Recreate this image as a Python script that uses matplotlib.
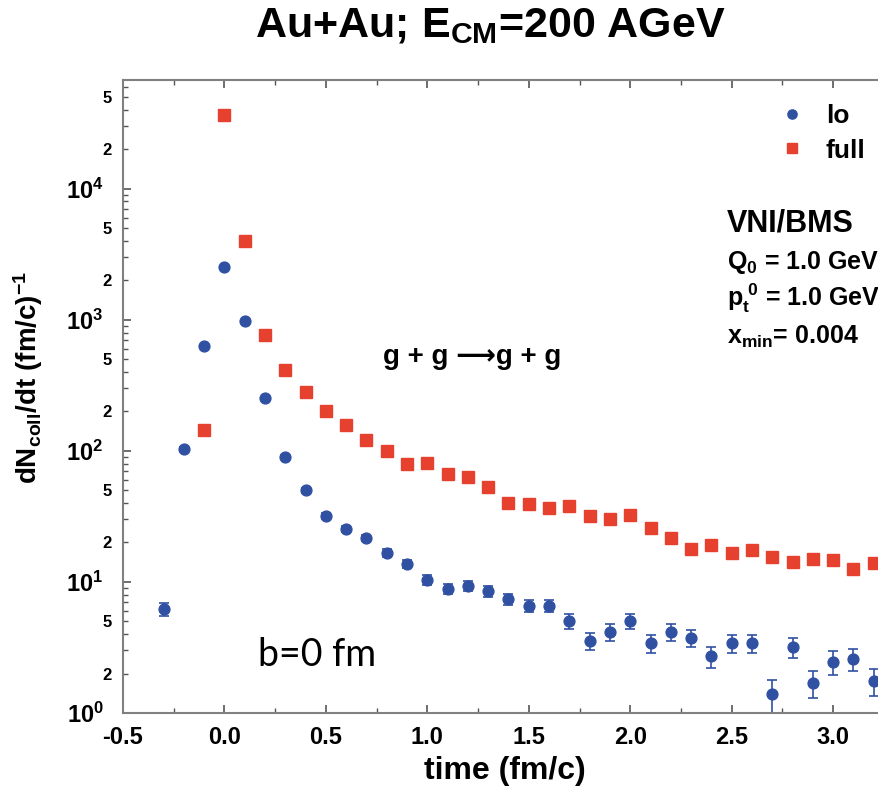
import numpy as np
import matplotlib
matplotlib.use('Agg')
import matplotlib.pyplot as plt
from matplotlib.ticker import MultipleLocator, LogLocator, FuncFormatter, FormatStrFormatter

plt.rcParams['font.family'] = ['Liberation Sans', 'DejaVu Sans']
plt.rcParams['font.weight'] = 'bold'
plt.rcParams['mathtext.fontset'] = 'custom'
plt.rcParams['mathtext.bf'] = 'Liberation Sans:bold'
plt.rcParams['mathtext.rm'] = 'Liberation Sans:bold'
plt.rcParams['mathtext.it'] = 'Liberation Sans:bold'
plt.rcParams['mathtext.default'] = 'bf'

# lo: leading order g+g->g+g collision rate (with stat. errors)
t_lo = [-0.3, -0.2, -0.1, 0.0, 0.1, 0.2, 0.3, 0.4, 0.5, 0.6, 0.7, 0.8, 0.9, 1.0,
        1.1, 1.2, 1.3, 1.4, 1.5, 1.6, 1.7, 1.8, 1.9, 2.0, 2.1, 2.2, 2.3, 2.4, 2.5,
        2.6, 2.7, 2.8, 2.9, 3.0, 3.1, 3.2]
lo = [6.2, 104, 633, 2540, 980, 254, 90, 50, 32, 25.4, 21.7, 16.7, 13.7, 10.4,
      8.9, 9.3, 8.5, 7.4, 6.6, 6.6, 5.0, 3.55, 4.15, 5.0, 3.4, 4.15, 3.75, 2.7, 3.4,
      3.4, 1.4, 3.2, 1.7, 2.45, 2.6, 1.75]
lo_err = [0.7, 3, 8, 16, 10, 5, 3, 2, 1.6, 1.4, 1.3, 1.1, 1.0, 0.9,
          0.8, 0.8, 0.8, 0.75, 0.7, 0.7, 0.65, 0.55, 0.6, 0.65, 0.55, 0.6, 0.55, 0.5, 0.55,
          0.55, 0.4, 0.55, 0.4, 0.5, 0.5, 0.4]

# full
t_full = [-0.1, 0.0, 0.1, 0.2, 0.3, 0.4, 0.5, 0.6, 0.7, 0.8, 0.9, 1.0, 1.1, 1.2,
          1.3, 1.4, 1.5, 1.6, 1.7, 1.8, 1.9, 2.0, 2.1, 2.2, 2.3, 2.4, 2.5, 2.6, 2.7,
          2.8, 2.9, 3.0, 3.1, 3.2]
full = [145, 36700, 4000, 770, 415, 282, 202, 158, 121, 100, 80, 81, 67, 63,
        53, 40, 39.4, 36.7, 38, 31.9, 30.3, 32.5, 25.8, 21.7, 17.9, 19.2, 16.7, 17.5, 15.5,
        14.2, 15.0, 14.7, 12.6, 14.0]

blue = '#3050a2'
red = '#e6402e'
spine_col = '#808080'

fig = plt.figure(figsize=(8.79, 7.89), dpi=100)
# right edge of the axes runs past the figure (cropped like the original)
ax = fig.add_axes([123/879, 76/789, 771/879, 633/789])

ax.errorbar(t_lo, lo, yerr=lo_err, fmt='none', ecolor=blue, elinewidth=1.2,
            capsize=3.5, capthick=1.2)
ax.plot(t_lo, lo, 'o', color=blue, ms=7.8, label='lo')
ax.plot(t_full, full, 's', color=red, ms=8.5, label='full')

ax.set_yscale('log')
ax.set_xlim(-0.5, 3.3)
ax.set_ylim(1, 10**4.83)

ax.xaxis.set_major_locator(MultipleLocator(0.5))
ax.xaxis.set_minor_locator(MultipleLocator(0.25))
ax.xaxis.set_major_formatter(FormatStrFormatter('%.1f'))

ax.yaxis.set_major_locator(LogLocator(base=10))
ax.yaxis.set_minor_locator(LogLocator(base=10, subs=np.arange(2, 10)))
ax.yaxis.set_major_formatter(FuncFormatter(lambda v, p: r'$10^{%d}$' % round(np.log10(v))))

def minor_fmt(v, p):
    m = v / 10**np.floor(np.log10(v) + 1e-9)
    r = int(round(m))
    return str(r) if r in (2, 5) else ''

ax.yaxis.set_minor_formatter(FuncFormatter(minor_fmt))

for s in ax.spines.values():
    s.set_color(spine_col)
    s.set_linewidth(1.5)
ax.spines['right'].set_visible(False)

ax.tick_params(which='both', direction='in', top=True, right=False, color='#555555')
ax.tick_params(axis='x', which='major', length=6, width=1.2, labelsize=17, pad=9)
ax.tick_params(axis='x', which='minor', length=3.5, width=1)
ax.tick_params(axis='y', which='major', length=6, width=1.2, labelsize=17, pad=14)
ax.tick_params(axis='y', which='minor', length=3.5, width=1, labelsize=12, pad=8)

ax.set_xlabel('time (fm/c)', fontsize=23, fontweight='bold')
ax.xaxis.set_label_coords(0.495, -0.068)
ax.set_ylabel(r'$dN_{coll}/dt\ (fm/c)^{-1}$', fontsize=20)
ax.yaxis.set_label_coords(-0.101, 0.53)

fig.text(490/879, 1 - 37/789, r'Au+Au; E$_{CM}$=200 AGeV', fontsize=31,
         fontweight='bold', ha='center', va='baseline')

ax.legend(loc='upper left', bbox_to_anchor=(781/879, 1 - 104/789),
          bbox_transform=fig.transFigure, frameon=False, fontsize=19,
          handlelength=0.8, handletextpad=0.9, labelspacing=0.4,
          borderpad=0, borderaxespad=0, markerscale=0.85)

fig.text(727/879, 1 - 223/789, 'VNI/BMS', fontsize=22, fontweight='bold', va='center')
fig.text(727/879, 1 - 262/789, r'Q$_0$ = 1.0 GeV', fontsize=18, fontweight='bold', va='center')
fig.text(727/879, 1 - 298/789, r'p$_t^{\ 0}$ = 1.0 GeV', fontsize=18, fontweight='bold', va='center')
fig.text(727/879, 1 - 337/789, r'x$_{min}$= 0.004', fontsize=18, fontweight='bold', va='center')

fig.text(472/879, 1 - 357/789, 'g + g \u27f6g + g', fontsize=20, fontweight='bold',
         ha='center', va='center')
fig.text(258/879, 1 - 655/789, 'b=0 fm', fontsize=27, fontweight='normal',
         family=['Lato', 'DejaVu Sans'], va='center')

fig.savefig('out.png', dpi=100)
